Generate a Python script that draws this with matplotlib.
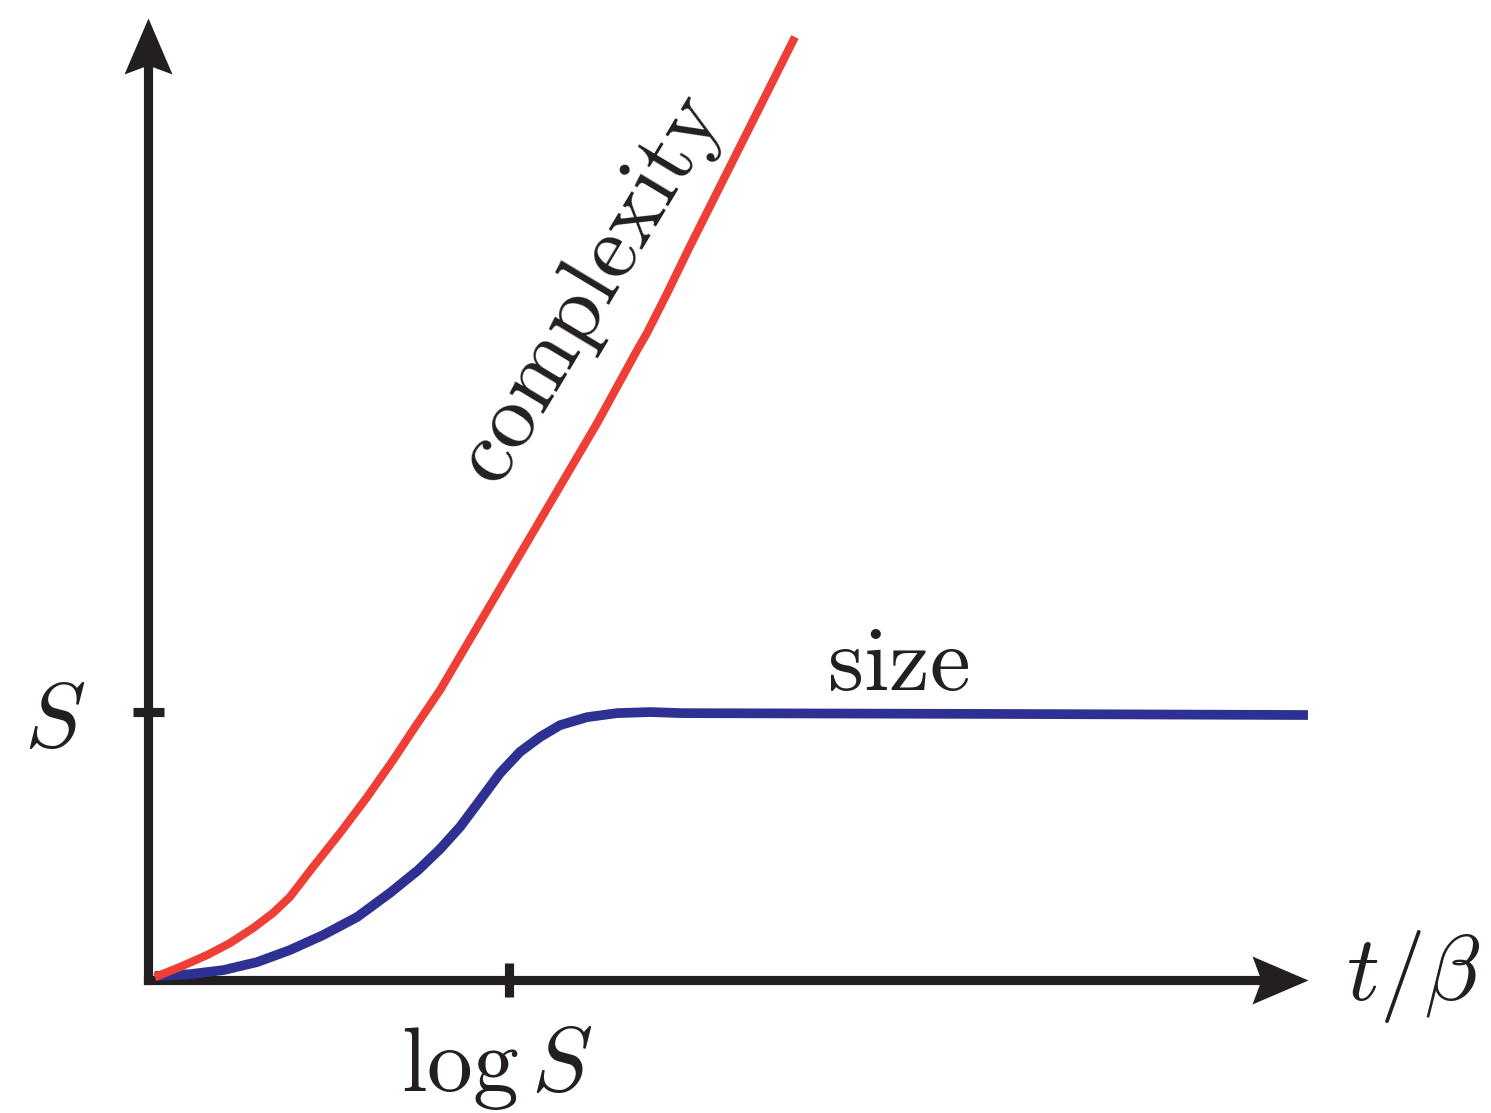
import matplotlib
matplotlib.use("Agg")
import matplotlib.pyplot as plt
import numpy as np
from matplotlib.path import Path

plt.rcParams['mathtext.fontset'] = 'cm'

# datos (x en unidades de log S, y en unidades de S)
complexity_x = [0.019, 0.089, 0.163, 0.227, 0.291, 0.346, 0.393, 0.457, 0.532, 0.607, 0.679,
                0.734, 0.809, 0.956, 1.114, 1.244, 1.355, 1.382, 1.438, 1.496, 1.792]
complexity_y = [0.011, 0.049, 0.093, 0.138, 0.194, 0.250, 0.310, 0.422, 0.549, 0.683, 0.821,
                0.933, 1.082, 1.418, 1.780, 2.078, 2.351, 2.414, 2.563, 2.724, 3.519]

size_x = [0.019, 0.116, 0.208, 0.302, 0.393, 0.485, 0.579, 0.670, 0.748, 0.809, 0.864,
          0.920, 0.975, 1.030, 1.086, 1.141, 1.216, 1.299, 1.391, 1.482, 2.360, 3.213]
size_y = [0.015, 0.022, 0.037, 0.067, 0.112, 0.168, 0.235, 0.325, 0.410, 0.489, 0.571,
          0.672, 0.772, 0.851, 0.907, 0.951, 0.981, 0.996, 1.000, 0.996, 0.993, 0.989]

tick_x = [1.0]
tick_y = [1.0]
x_end = 3.213
y_end = 3.59

axis_color = '#231f20'
red = '#ef3e36'
blue = '#2e3192'

fig = plt.figure(figsize=(14.91, 11.13), dpi=100)
ax = fig.add_axes([0, 0, 1, 1])
ax.set_xlim(-0.410, 3.720)
ax.set_ylim(-0.496, 3.657)
ax.axis('off')

# ejes
ax.plot([0, x_end - 0.12], [0, 0], color=axis_color, lw=6.6, solid_capstyle='projecting', zorder=2)
ax.plot([0, 0], [0, y_end - 0.15], color=axis_color, lw=6.6, solid_capstyle='projecting', zorder=2)

# puntas de flecha con muesca
head_right = Path([(0, 0), (-56, 24), (-47, 0), (-56, -24), (0, 0)],
                  [Path.MOVETO, Path.LINETO, Path.LINETO, Path.LINETO, Path.CLOSEPOLY])
head_up = Path([(0, 0), (-24, -56), (0, -47), (24, -56), (0, 0)],
               [Path.MOVETO, Path.LINETO, Path.LINETO, Path.LINETO, Path.CLOSEPOLY])
ax.plot([x_end], [0], marker=head_right, markersize=112 * 0.72, color=axis_color, mew=0, zorder=3)
ax.plot([0], [y_end], marker=head_up, markersize=112 * 0.72, color=axis_color, mew=0, zorder=3)

# marcas
for tx in tick_x:
    ax.plot([tx, tx], [-0.065, 0.065], color=axis_color, lw=6.6, solid_capstyle='butt', zorder=2)
for ty in tick_y:
    ax.plot([-0.042, 0.044], [ty, ty], color=axis_color, lw=6.6, solid_capstyle='butt', zorder=2)

# curvas
ax.plot(size_x, size_y, color=blue, lw=7.0, solid_capstyle='butt', solid_joinstyle='round', zorder=4)
ax.plot(complexity_x, complexity_y, color=red, lw=5.9, solid_capstyle='butt', solid_joinstyle='round', zorder=5)

# textos
fs = 66
ax.text(-0.258, 0.869, r'$S$', fontsize=fs, ha='center', va='baseline', color=axis_color)
ax.text(0.967, -0.415, r'$\log S$', fontsize=fs, ha='center', va='baseline', color=axis_color)
ax.text(3.504, -0.075, r'$t/\beta$', fontsize=fs, ha='center', va='baseline', color=axis_color)
ax.text(2.078, 1.082, r'$\mathrm{size}$', fontsize=fs, ha='center', va='baseline', color=axis_color)
ax.text(1.224, 2.575, r'$\mathrm{complexity}$', fontsize=fs, ha='center', va='center',
        rotation=59, rotation_mode='anchor', color=axis_color)

plt.savefig('out.png', dpi=100)
plt.close()
